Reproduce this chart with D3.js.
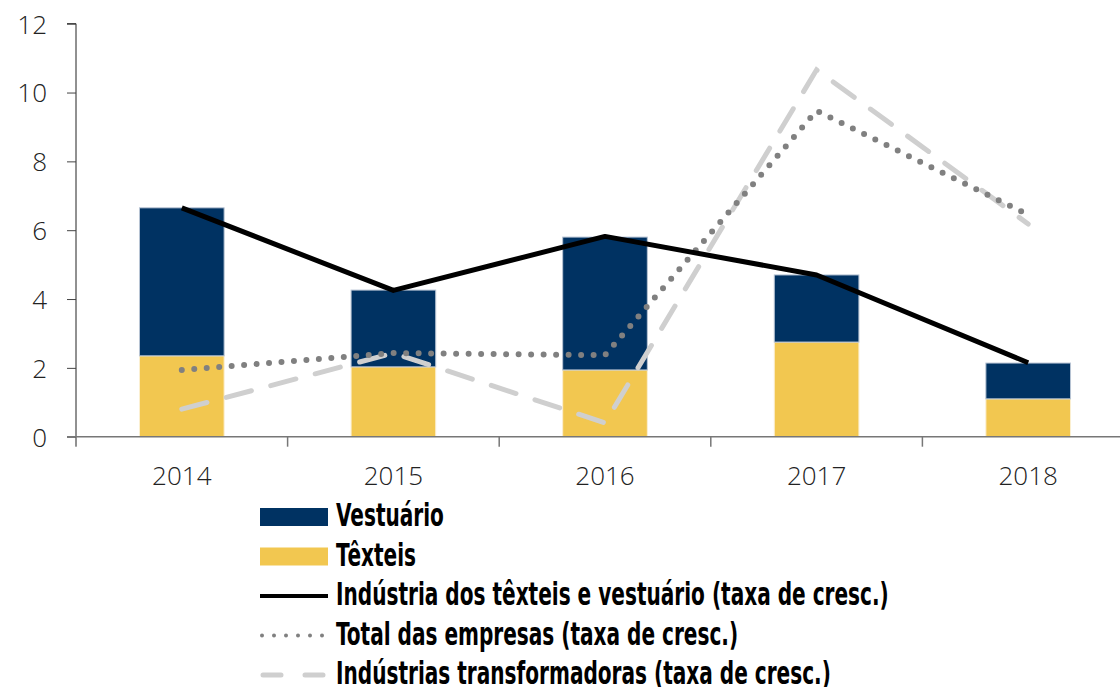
<!DOCTYPE html>
<html>
<head>
<meta charset="utf-8">
<script src="https://cdn.jsdelivr.net/npm/d3@7/dist/d3.min.js"></script>
<style>
	body { margin: 0; background: #fff; }
	svg { display: block; }
	.tick text { font-family: "Open Sans", sans-serif; font-weight: 300; fill: #222; }
	.legend text { font-family: "DejaVu Sans Condensed", "DejaVu Sans", sans-serif; font-stretch: condensed; font-weight: bold; fill: #000; }
</style>
</head>
<body>
<div id="chart"></div>
<script>
var years = [ "2014", "2015", "2016", "2017", "2018" ];
var texteis = [ 2.35, 2.03, 1.94, 2.75, 1.10 ];
var vestuario = [ 4.30, 2.23, 3.86, 1.95, 1.04 ];
var industriaTV = [ 6.65, 4.25, 5.82, 4.70, 2.15 ];
var totalEmpresas = [ 1.94, 2.43, 2.37, 9.47, 6.45 ];
var transformadoras = [ 0.80, 2.43, 0.40, 10.66, 6.18 ];
var yTicks = [ 0, 2, 4, 6, 8, 10, 12 ];

var width = 1120, height = 687;
var margin = { top: 24, left: 76, right: -14, bottom: 250 };

var svg = d3.select( "#chart" ).append( "svg" )
	.attr( "width", width )
	.attr( "height", height );

var x = d3.scaleBand()
	.domain( years )
	.range( [ margin.left, width - margin.right ] )
	.paddingInner( 0.6 )
	.paddingOuter( 0.3 );

var y = d3.scaleLinear()
	.domain( [ 0, 12 ] )
	.range( [ 436.7, 23.7 ] );

// Stacked bars
//
var stack = years.map( function( yr, i ) {
	return { year: yr, t: texteis[ i ], v: vestuario[ i ] };
} );

var bars = svg.append( "g" ).attr( "class", "bars" );

bars.selectAll( "rect.tex" )
	.data( stack )
	.enter()
	.append( "rect" )
	.attr( "class", "tex" )
	.attr( "x", function( d ) { return x( d.year ); } )
	.attr( "width", x.bandwidth() )
	.attr( "y", function( d ) { return y( d.t ); } )
	.attr( "height", function( d ) { return y( 0 ) - y( d.t ); } )
	.attr( "fill", "#f2c750" )
	.attr( "stroke", "#fbefd2" )
	.attr( "stroke-width", 1 );

bars.selectAll( "rect.ves" )
	.data( stack )
	.enter()
	.append( "rect" )
	.attr( "class", "ves" )
	.attr( "x", function( d ) { return x( d.year ); } )
	.attr( "width", x.bandwidth() )
	.attr( "y", function( d ) { return y( d.t + d.v ); } )
	.attr( "height", function( d ) { return y( d.t ) - y( d.t + d.v ); } )
	.attr( "fill", "#003262" )
	.attr( "stroke", "#b8c4d4" )
	.attr( "stroke-width", 1 );

// Axes
//
var yAxis = svg.append( "g" )
	.attr( "transform", "translate(" + margin.left + ",0)" )
	.call( d3.axisLeft( y ).tickValues( yTicks ).tickSize( 9 ).tickPadding( 20 ) );
yAxis.select( ".domain" ).attr( "stroke", "#222" ).attr( "d", "M-9," + y( 12 ) + "H0V" + ( y( 0 ) + 10 ) );
yAxis.selectAll( ".tick line" ).attr( "stroke", "#444" );
yAxis.selectAll( ".tick text" ).attr( "font-size", 26 ).attr( "dy", "0.36em" );

var xBound = d3.scaleLinear().domain( [ 0, years.length ] ).range( [ margin.left, margin.left + 5 * x.step() ] );
var xAxis = svg.append( "g" )
	.attr( "transform", "translate(0," + y( 0 ) + ")" );
xAxis.append( "line" )
	.attr( "x1", margin.left - 9 )
	.attr( "x2", width )
	.attr( "stroke", "#777" )
	.attr( "stroke-width", 1.5 );
xAxis.selectAll( "line.sep" )
	.data( d3.range( 1, years.length ) )
	.enter()
	.append( "line" )
	.attr( "class", "sep" )
	.attr( "x1", function( d ) { return xBound( d ); } )
	.attr( "x2", function( d ) { return xBound( d ); } )
	.attr( "y2", 10 )
	.attr( "stroke", "#777" )
	.attr( "stroke-width", 1.5 );
xAxis.selectAll( "text" )
	.data( years )
	.enter()
	.append( "text" )
	.attr( "x", function( d ) { return x( d ) + x.bandwidth() / 2; } )
	.attr( "y", 48 )
	.attr( "text-anchor", "middle" )
	.attr( "font-size", 26 )
	.attr( "font-family", "'Open Sans', sans-serif" )
	.attr( "font-weight", 300 )
	.attr( "fill", "#222" )
	.text( function( d ) { return d; } );

// Lines
//
var line = d3.line()
	.x( function( d, i ) { return x( years[ i ] ) + x.bandwidth() / 2; } )
	.y( function( d ) { return y( d ); } );

svg.append( "path" )
	.datum( transformadoras )
	.attr( "d", line )
	.attr( "fill", "none" )
	.attr( "stroke", "#cfcfcf" )
	.attr( "stroke-width", 5 )
	.attr( "stroke-linecap", "round" )
	.attr( "stroke-dasharray", "26,20" );

svg.append( "path" )
	.datum( totalEmpresas )
	.attr( "d", line )
	.attr( "fill", "none" )
	.attr( "stroke", "#808080" )
	.attr( "stroke-width", 6 )
	.attr( "stroke-linecap", "round" )
	.attr( "stroke-dasharray", "0,12.5" );

svg.append( "path" )
	.datum( industriaTV )
	.attr( "d", line )
	.attr( "fill", "none" )
	.attr( "stroke", "#000" )
	.attr( "stroke-width", 5 )
	.attr( "stroke-linejoin", "round" );

// Legend
//
var legendItems = [
	{ label: "Vestuário", type: "rect", color: "#003262" },
	{ label: "Têxteis", type: "rect", color: "#f2c750" },
	{ label: "Indústria dos têxteis e vestuário (taxa de cresc.)", type: "solid" },
	{ label: "Total das empresas (taxa de cresc.)", type: "dot" },
	{ label: "Indústrias transformadoras (taxa de cresc.)", type: "dash" }
];

var legend = svg.append( "g" ).attr( "class", "legend" );
var row = legend.selectAll( "g" )
	.data( legendItems )
	.enter()
	.append( "g" )
	.attr( "transform", function( d, i ) { return "translate(260," + ( 517 + i * 39.5 ) + ")"; } );

row.each( function( d ) {
	var g = d3.select( this );
	if( d.type == "rect" )
	{
		g.append( "rect" ).attr( "x", 0 ).attr( "y", -9 ).attr( "width", 68 ).attr( "height", 18 ).attr( "fill", d.color );
	}
	else if( d.type == "solid" )
	{
		g.append( "line" ).attr( "x1", 0 ).attr( "x2", 68 ).attr( "stroke", "#000" ).attr( "stroke-width", 4 );
	}
	else if( d.type == "dot" )
	{
		g.append( "line" ).attr( "x1", 2 ).attr( "x2", 68 ).attr( "stroke", "#808080" ).attr( "stroke-width", 4 )
			.attr( "stroke-linecap", "round" ).attr( "stroke-dasharray", "0,12" );
	}
	else
	{
		g.append( "line" ).attr( "x1", 3 ).attr( "x2", 68 ).attr( "stroke", "#cfcfcf" ).attr( "stroke-width", 5 )
			.attr( "stroke-linecap", "round" ).attr( "stroke-dasharray", "18,24" );
	}
	g.append( "g" )
		.attr( "transform", "translate(76,0)" )
		.append( "text" )
		.attr( "y", 9 )
		.attr( "font-size", 32 )
		.text( d.label );
} );

// Squeeze the labels to the narrow face of the original
//
var longest = legend.selectAll( "text" ).nodes()[ 2 ].getComputedTextLength();
var sx = 553 / longest;
legend.selectAll( "text" ).attr( "transform", "scale(" + sx + ",1)" );
</script>
</body>
</html>
